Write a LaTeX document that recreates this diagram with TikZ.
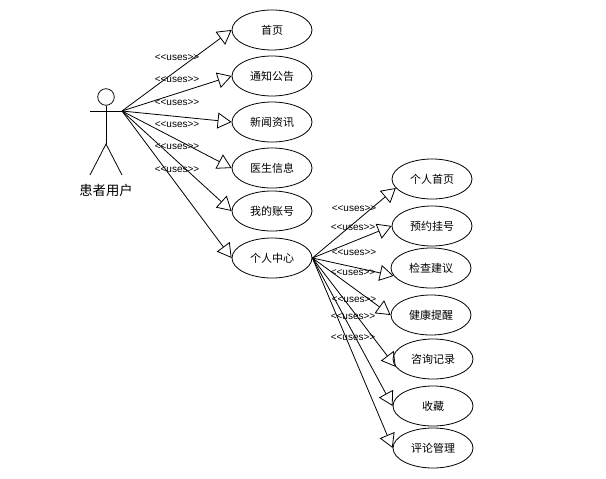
\documentclass[tikz,border=0pt]{standalone}
\usepackage{fontspec}
\setmainfont{Noto Sans CJK SC}
\newfontfamily\usesfont{Liberation Sans}
\usetikzlibrary{arrows.meta,shapes.geometric}

\begin{document}
\begin{tikzpicture}[
    x=0.75pt, y=-0.75pt,
    usecase/.style={draw, ellipse, line width=0.6pt, minimum width=60pt, minimum height=30pt, inner sep=0pt, font=\fontsize{8.25}{10}\selectfont},
    actorname/.style={inner sep=0pt, font=\fontsize{10}{12}\selectfont},
    uses/.style={inner sep=0pt, font=\usesfont\fontsize{7.5}{8}\selectfont},
    limb/.style={line width=0.6pt},
    arrow/.style={-{Triangle[open, length=10.5pt, width=12pt]}, line width=0.6pt}
]
\useasboundingbox (0,0) rectangle (606,478);

% actor
\node[draw, circle, line width=0.6pt, minimum size=12.4pt, inner sep=0pt] (head) at (106,97) {};
\coordinate (neck) at (106,111);
\coordinate (shoulder) at (90,111);
\coordinate (hand) at (122,111);
\coordinate (hip) at (106,144);
\coordinate (footl) at (90,175);
\coordinate (footr) at (122,175);
\node[actorname] (patient) at (106,190) {患者用户};
\draw[limb] (head) -- (hip);
\draw[limb] (shoulder) -- (hand);
\draw[limb] (footl) -- (hip) -- (footr);

% left column
\node[usecase] (home) at (272,30) {首页};
\node[usecase] (notice) at (272,76) {通知公告};
\node[usecase] (news) at (272,122) {新闻资讯};
\node[usecase] (doctor) at (272,168) {医生信息};
\node[usecase] (account) at (272,211) {我的账号};
\node[usecase] (center) at (272,258) {个人中心};

% right column
\node[usecase] (myhome) at (432,179) {个人首页};
\node[usecase] (booking) at (432,226) {预约挂号};
\node[usecase] (advice) at (431,268) {检查建议};
\node[usecase] (health) at (431,315) {健康提醒};
\node[usecase] (consult) at (433,359) {咨询记录};
\node[usecase] (favorite) at (433,406) {收藏};
\node[usecase] (comment) at (433,448) {评论管理};

\draw[arrow] (hand) -- (home.west);
\draw[arrow] (hand) -- (notice.west);
\draw[arrow] (hand) -- (news.west);
\draw[arrow] (hand) -- (doctor.west);
\draw[arrow] (hand) -- (account.west);
\draw[arrow] (hand) -- (center.west);

\draw[arrow] (center.east) -- (myhome.194);
\draw[arrow] (center.east) -- (booking.west);
\draw[arrow] (center.east) -- (advice.192);
\draw[arrow] (center.east) -- (health.west);
\draw[arrow] (center.east) -- (consult.192);
\draw[arrow] (center.east) -- (favorite.west);
\draw[arrow] (center.east) -- (comment.west);

% stereotype labels
\node[uses] (usesa) at (177,58) {<{}<uses>{}>};
\node[uses] (usesb) at (177,80) {<{}<uses>{}>};
\node[uses] (usesc) at (177,103) {<{}<uses>{}>};
\node[uses] (usesd) at (177,125) {<{}<uses>{}>};
\node[uses] (usese) at (177,147) {<{}<uses>{}>};
\node[uses] (usesf) at (177,170) {<{}<uses>{}>};
\node[uses] (usesg) at (354,209) {<{}<uses>{}>};
\node[uses] (usesh) at (353,228) {<{}<uses>{}>};
\node[uses] (usesi) at (354,253) {<{}<uses>{}>};
\node[uses] (usesj) at (353,273) {<{}<uses>{}>};
\node[uses] (usesk) at (354,300) {<{}<uses>{}>};
\node[uses] (usesl) at (353,317) {<{}<uses>{}>};
\node[uses] (usesm) at (353,338) {<{}<uses>{}>};
\end{tikzpicture}
\end{document}
